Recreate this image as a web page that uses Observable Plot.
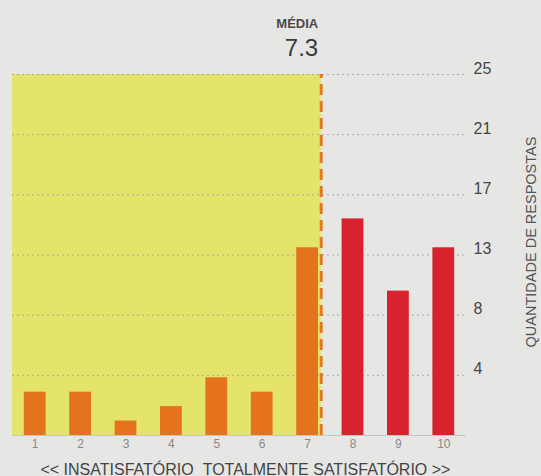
<!DOCTYPE html>
<html>
<head>
<meta charset="utf-8">
<script src="https://cdn.jsdelivr.net/npm/d3@7"></script>
<script src="https://cdn.jsdelivr.net/npm/@observablehq/plot@0.6"></script>
<style>
  html, body { margin: 0; padding: 0; background: #e6e6e4; }
</style>
</head>
<body>
<div id="chart"></div>
<script>
// Data
const notas = [1, 2, 3, 4, 5, 6, 7, 8, 9, 10];
const respostas = [3, 3, 1, 2, 4, 3, 13, 15, 10, 13];
const yTicks = [25 / 6, 50 / 6, 75 / 6, 100 / 6, 125 / 6, 25];
const media = 7.3;
const mediaLabel = "MÉDIA";
const labelEsq = "<< INSATISFATÓRIO";
const labelDir = "TOTALMENTE SATISFATÓRIO >>";
const tituloY = "QUANTIDADE DE RESPOSTAS";

const data = notas.map((n, i) => ({ nota: n, respostas: respostas[i], grupo: n <= 7 ? "insat" : "sat" }));

const chart = Plot.plot({
  width: 541,
  height: 476,
  marginLeft: 12,
  marginRight: 75,
  marginTop: 74,
  marginBottom: 41,
  style: { background: "#e6e6e4", fontFamily: "'Liberation Sans', Arial, sans-serif" },
  x: { domain: [0.5, 10.5], axis: null },
  y: { domain: [0, 25], axis: null },
  color: { domain: ["insat", "sat"], range: ["#e5731d", "#d6232d"] },
  marks: [
    Plot.rect([{ a: 0.5, b: media }], { x1: "a", x2: "b", y1: 0, y2: 25, fill: "#e4e46b" }),
    Plot.ruleY(yTicks, { stroke: "#9c9c9c", strokeOpacity: 0.8, strokeDasharray: "2,3", strokeWidth: 1 }),
    Plot.ruleY([0], { stroke: "#c4c4c4", strokeWidth: 1 }),
    Plot.rect(data, { x1: d => d.nota - 0.24, x2: d => d.nota + 0.24, y1: 0, y2: "respostas", fill: "grupo" }),
    Plot.ruleX([media], { y1: 0, y2: 25, stroke: "#e3791f", strokeWidth: 3, strokeDasharray: "11,6" }),
    // x tick labels
    Plot.text(notas, { x: d => d, frameAnchor: "bottom", dy: 12, text: d => String(d), fill: "#8a8a8a", fontSize: 12 }),
    // y tick labels (right)
    Plot.text(yTicks, { y: d => d, frameAnchor: "right", dx: 7, dy: -1, textAnchor: "start", lineAnchor: "bottom",
      text: d => String(Math.round(d)), fill: "#454545", fontSize: 16 }),
    // mean label
    Plot.text([media], { x: d => d, frameAnchor: "top", dx: -3, dy: -47, textAnchor: "end", lineAnchor: "bottom",
      text: () => mediaLabel, fill: "#4a4a4a", fontSize: 13, fontWeight: "bold" }),
    Plot.text([media], { x: d => d, frameAnchor: "top", dx: -3, dy: -19, textAnchor: "end", lineAnchor: "bottom",
      text: d => d.toFixed(1), fill: "#3a3a3a", fontSize: 24 }),
    // bottom labels
    Plot.text([labelEsq], { x: 4.59, frameAnchor: "bottom", dx: -4.5, dy: 39, textAnchor: "end", lineAnchor: "bottom",
      text: d => d, fill: "#444", fontSize: 16 }),
    Plot.text([labelDir], { x: 4.59, frameAnchor: "bottom", dx: 4.5, dy: 39, textAnchor: "start", lineAnchor: "bottom",
      text: d => d, fill: "#444", fontSize: 16 }),
    // y title
    Plot.text([tituloY], { x: 11.93, y: 13.4, rotate: -90, text: d => d, fill: "#555", fontSize: 14.5 })
  ]
});
document.getElementById("chart").appendChild(chart);
</script>
</body>
</html>
